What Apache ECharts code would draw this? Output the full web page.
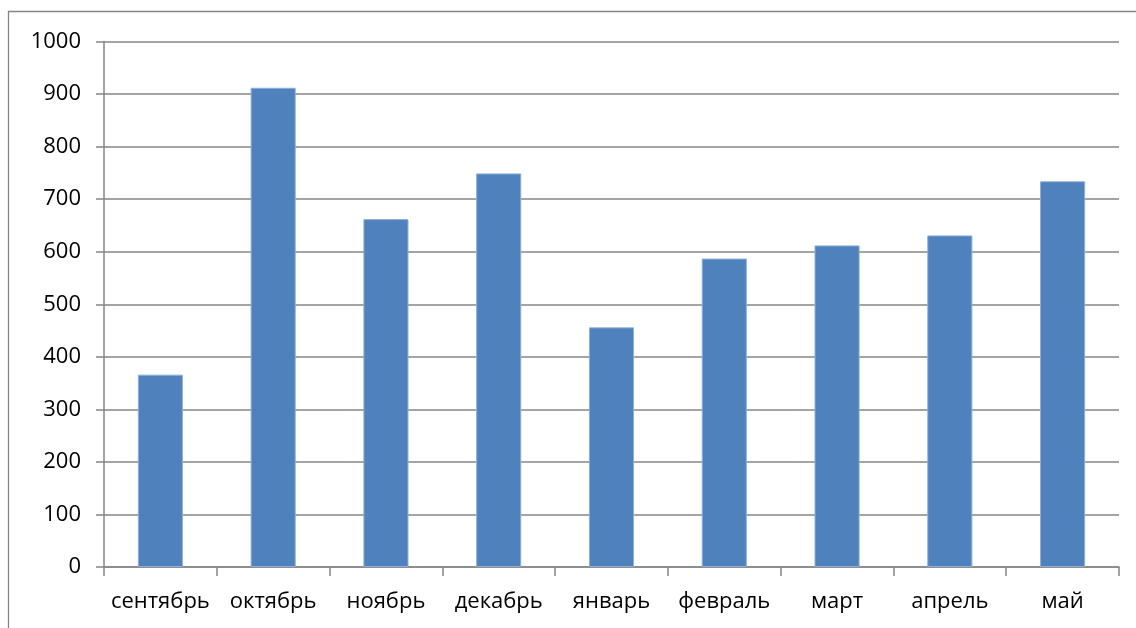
<!DOCTYPE html>
<html>
<head>
<meta charset="utf-8">
<style>
html,body{margin:0;padding:0;background:#fff;}
#chart{width:1136px;height:628px;}
</style>
<script src="https://cdn.jsdelivr.net/npm/echarts@6/dist/echarts.min.js"></script>
</head>
<body>
<div id="chart"></div>
<script>
const categories = ['сентябрь','октябрь','ноябрь','декабрь','январь','февраль','март','апрель','май'];
const values = [366, 912, 662, 749, 456, 587, 612, 631, 734];
const yTicks = [0,100,200,300,400,500,600,700,800,900,1000];

const chart = echarts.init(document.getElementById('chart'), null, {renderer:'canvas'});
const font = 'Open Sans';
chart.setOption({
  animation:false,
  backgroundColor:'#ffffff',
  graphic:[{
    type:'rect', silent:true,
    shape:{x:8.5, y:11.5, width:1300, height:800},
    style:{fill:'none', stroke:'#868686', lineWidth:1.3}
  }],
  grid:{left:104, right:17, top:41.5, bottom:61, containLabel:false},
  xAxis:{
    type:'category',
    data:categories,
    axisLine:{show:true, lineStyle:{color:'#868686', width:1.5}},
    axisTick:{show:true, length:9, alignWithLabel:false, lineStyle:{color:'#868686', width:1.5}},
    axisLabel:{color:'#000', fontFamily:font, fontSize:22, margin:24, interval:0}
  },
  yAxis:{
    type:'value',
    min:yTicks[0], max:yTicks[yTicks.length-1], interval:100,
    axisLine:{show:true, lineStyle:{color:'#868686', width:1.5}},
    axisTick:{show:true, length:8, lineStyle:{color:'#868686', width:1.5}},
    axisLabel:{color:'#000', fontFamily:font, fontSize:22, margin:23, formatter:function(v){return String(v);}},
    splitLine:{show:true, lineStyle:{color:'#868686', width:1.5}}
  },
  series:[{
    type:'bar',
    data:values,
    barCategoryGap:'60%',
    itemStyle:{color:'#4F81BD', borderColor:'#8fb0d8', borderWidth:1}
  }]
});
</script>
</body>
</html>
